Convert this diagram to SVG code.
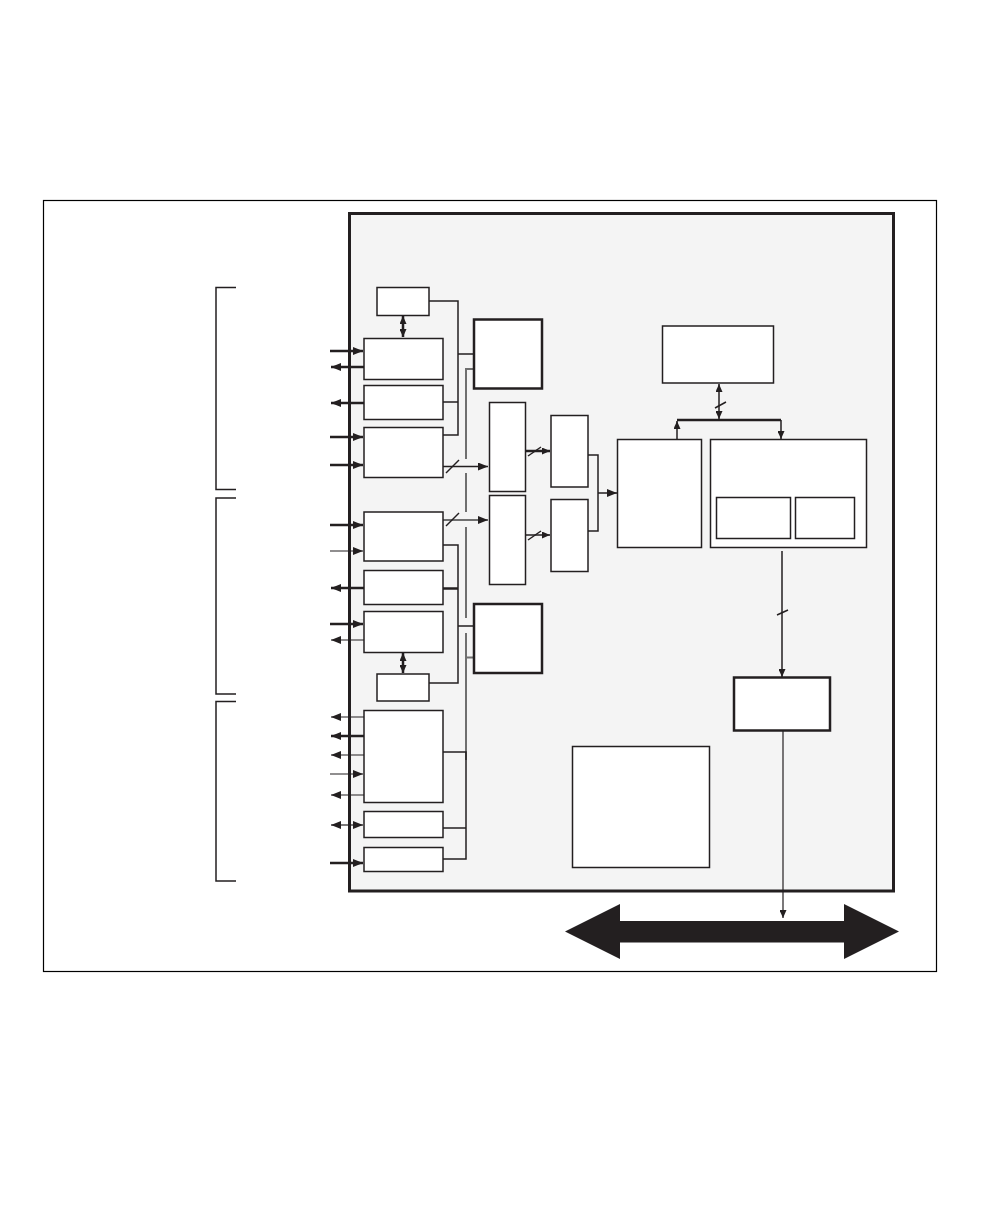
<svg xmlns="http://www.w3.org/2000/svg" width="1008" height="1224" viewBox="0 0 1008 1224">
<style>
.box{fill:#fff;stroke:#231f20;stroke-width:1.5}
.tbox{fill:#fff;stroke:#231f20;stroke-width:2.5}
.ln{fill:none;stroke:#231f20;stroke-width:1.5}
.thk{fill:none;stroke:#231f20;stroke-width:2.5}
.thn{fill:none;stroke:#231f20;stroke-width:1.2}
.gry{fill:none;stroke:#6f6f6f;stroke-width:2}
.brk{fill:none;stroke:#231f20;stroke-width:1.5}
</style>
<defs>
<marker id="ah" viewBox="0 0 10 8" refX="10" refY="4" markerWidth="10" markerHeight="8" markerUnits="userSpaceOnUse" orient="auto-start-reverse"><path d="M0,0L10,4L0,8z" fill="#231f20"/></marker>
<marker id="as" viewBox="0 0 8 7" refX="8" refY="3.5" markerWidth="8" markerHeight="7" markerUnits="userSpaceOnUse" orient="auto-start-reverse"><path d="M0,0L8,3.5L0,7z" fill="#231f20"/></marker>
</defs>
<rect x="0" y="0" width="1008" height="1224" fill="#fff"/>
<g id="frame"><rect x="43.5" y="200.5" width="893" height="771" fill="none" stroke="#000" stroke-width="1.2"/></g>
<g id="module"><rect x="349.5" y="213.5" width="544" height="677.5" fill="#f4f4f4" stroke="#231f20" stroke-width="3"/></g>
<g id="brackets">
<path class="brk" d="M236,287.5H216V489.5H236"/>
<path class="brk" d="M236,498H216V694H236"/>
<path class="brk" d="M236,701.5H216V881H236"/>
</g>
<g id="connectors">
<!-- left I/O arrows -->
<line class="thk" x1="330" y1="351" x2="363" y2="351" marker-end="url(#ah)"/>
<line class="thk" x1="364" y1="367" x2="331" y2="367" marker-end="url(#ah)"/>
<line class="thk" x1="364" y1="403" x2="331" y2="403" marker-end="url(#ah)"/>
<line class="thk" x1="330" y1="437" x2="363" y2="437" marker-end="url(#ah)"/>
<line class="thk" x1="330" y1="465" x2="363" y2="465" marker-end="url(#ah)"/>
<line class="thk" x1="330" y1="525" x2="363" y2="525" marker-end="url(#ah)"/>
<line class="thn" x1="330" y1="551" x2="363" y2="551" marker-end="url(#ah)"/>
<line class="thk" x1="364" y1="588" x2="331" y2="588" marker-end="url(#ah)"/>
<line class="thk" x1="330" y1="624" x2="363" y2="624" marker-end="url(#ah)"/>
<line class="thn" x1="364" y1="640" x2="331" y2="640" marker-end="url(#ah)"/>
<line class="thn" x1="364" y1="717" x2="331" y2="717" marker-end="url(#ah)"/>
<line class="thk" x1="364" y1="736" x2="331" y2="736" marker-end="url(#ah)"/>
<line class="thn" x1="364" y1="755" x2="331" y2="755" marker-end="url(#ah)"/>
<line class="thn" x1="330" y1="774" x2="363" y2="774" marker-end="url(#ah)"/>
<line class="thn" x1="364" y1="795" x2="331" y2="795" marker-end="url(#ah)"/>
<line class="thn" x1="331" y1="825" x2="363" y2="825" marker-start="url(#ah)" marker-end="url(#ah)"/>
<line class="thk" x1="330" y1="863" x2="363" y2="863" marker-end="url(#ah)"/>
<!-- small box double arrows -->
<line class="thk" x1="403" y1="316" x2="403" y2="337" marker-start="url(#as)" marker-end="url(#as)"/>
<line class="thk" x1="403" y1="653" x2="403" y2="673" marker-start="url(#as)" marker-end="url(#as)"/>
<!-- top bus -->
<path class="ln" d="M429,301H458V435H443"/>
<line class="ln" x1="443" y1="402" x2="458" y2="402"/>
<line class="ln" x1="458" y1="354" x2="474" y2="354"/>
<!-- middle bus -->
<path class="ln" d="M443,545H458V683H429"/>
<line class="thk" x1="443" y1="588.5" x2="458" y2="588.5"/>
<line class="ln" x1="458" y1="626" x2="474" y2="626"/>
<!-- gray shared line -->
<path class="gry" d="M474,369H466V459"/>
<line class="gry" x1="466" y1="473" x2="466" y2="512"/>
<line class="gry" x1="466" y1="527" x2="466" y2="618"/>
<line class="gry" x1="466" y1="633" x2="466" y2="760"/>
<line class="gry" x1="466" y1="657.5" x2="474" y2="657.5"/>
<path class="ln" d="M443,752H466V859H443"/>
<line class="ln" x1="443" y1="828" x2="466" y2="828"/>
<!-- arrows into E and G -->
<line class="ln" x1="443" y1="466.5" x2="488" y2="466.5" marker-end="url(#ah)"/>
<line class="ln" x1="446" y1="473" x2="459" y2="460"/>
<line class="gry" x1="443" y1="520" x2="488" y2="520" marker-end="url(#ah)"/>
<line class="ln" x1="446" y1="526" x2="459" y2="513"/>
<!-- E->F, G->H -->
<line class="thk" x1="525" y1="451" x2="550" y2="451" marker-end="url(#as)"/>
<line class="ln" x1="528" y1="456" x2="541" y2="447"/>
<line class="ln" x1="525" y1="535" x2="550" y2="535" marker-end="url(#as)"/>
<line class="ln" x1="528" y1="540" x2="541" y2="531"/>
<!-- F,H merge to I -->
<path class="ln" d="M588,455H598V531H588"/>
<line class="ln" x1="598" y1="493" x2="617" y2="493" marker-end="url(#ah)"/>
<!-- top right bus -->
<line class="thk" x1="677" y1="420" x2="781" y2="420"/>
<line class="ln" x1="719" y1="384" x2="719" y2="419" marker-start="url(#as)" marker-end="url(#as)"/>
<line class="ln" x1="715" y1="408" x2="726" y2="402"/>
<line class="ln" x1="677" y1="439" x2="677" y2="421" marker-end="url(#as)"/>
<line class="ln" x1="781" y1="420" x2="781" y2="439" marker-end="url(#as)"/>
<!-- K -> N -->
<line class="ln" x1="782" y1="551" x2="782" y2="677" marker-end="url(#as)"/>
<line class="ln" x1="777" y1="615" x2="788" y2="610"/>
<!-- N -> bus -->
<line class="thn" x1="783" y1="730" x2="783" y2="918" marker-end="url(#as)"/>
</g>
<g id="n-s1"><rect class="box" x="377" y="287.5" width="52" height="28"/></g>
<g id="n-a"><rect class="box" x="364" y="338.5" width="79" height="41"/></g>
<g id="n-b"><rect class="box" x="364" y="385.5" width="79" height="34"/></g>
<g id="n-c"><rect class="box" x="364" y="427.5" width="79" height="50"/></g>
<g id="n-d"><rect class="tbox" x="474" y="319.5" width="68" height="69"/></g>
<g id="n-e"><rect class="box" x="489.5" y="402.5" width="36" height="89"/></g>
<g id="n-g"><rect class="box" x="489.5" y="495.5" width="36" height="89"/></g>
<g id="n-f"><rect class="box" x="551" y="415.5" width="37" height="71.5"/></g>
<g id="n-h"><rect class="box" x="551" y="499.5" width="37" height="72"/></g>
<g id="n-p"><rect class="box" x="364" y="512" width="79" height="49"/></g>
<g id="n-q"><rect class="box" x="364" y="570.5" width="79" height="34"/></g>
<g id="n-r"><rect class="box" x="364" y="611.5" width="79" height="41"/></g>
<g id="n-s2"><rect class="box" x="377" y="674" width="52" height="27"/></g>
<g id="n-t"><rect class="tbox" x="474" y="604" width="68" height="69"/></g>
<g id="n-u"><rect class="box" x="364" y="710.5" width="79" height="92"/></g>
<g id="n-v"><rect class="box" x="364" y="811.5" width="79" height="26"/></g>
<g id="n-w"><rect class="box" x="364" y="847.5" width="79" height="24"/></g>
<g id="n-j"><rect class="box" x="662.5" y="326" width="111" height="57"/></g>
<g id="n-i"><rect class="box" x="617.5" y="439.5" width="84" height="108"/></g>
<g id="n-k"><rect class="box" x="710.5" y="439.5" width="156" height="108"/>
<rect class="box" x="716.5" y="497.5" width="74" height="41"/>
<rect class="box" x="795.5" y="497.5" width="59" height="41"/></g>
<g id="n-n"><rect class="tbox" x="734" y="677.5" width="96" height="53"/></g>
<g id="n-o"><rect class="box" x="572.5" y="746.5" width="137" height="121"/></g>
<g id="n-bus"><polygon points="565,931.5 620,904 620,921 844,921 844,904 899,931.5 844,959 844,942.5 620,942.5 620,959" fill="#231f20"/></g>
</svg>
